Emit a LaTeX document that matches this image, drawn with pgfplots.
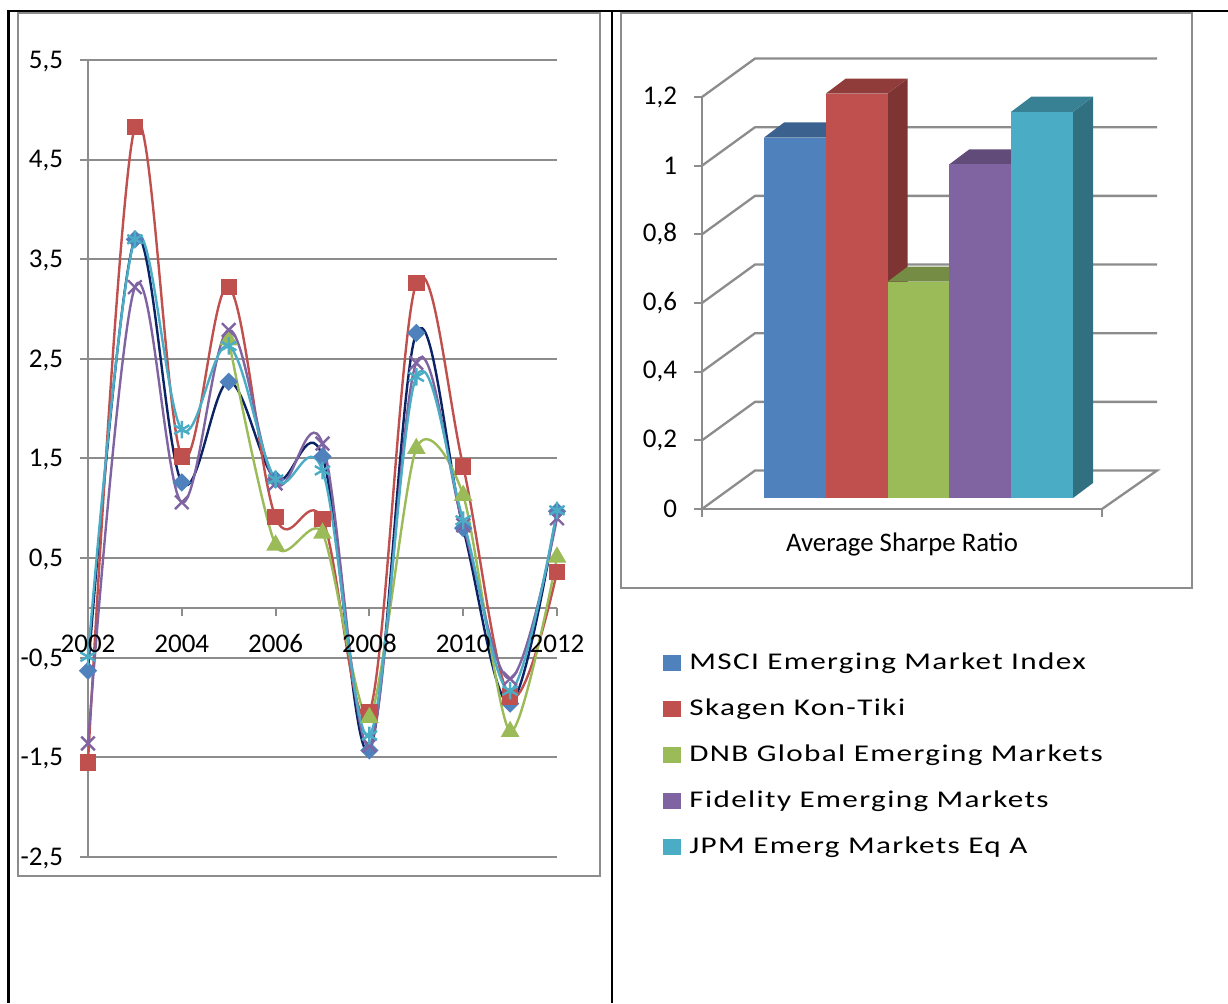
\documentclass[border=0pt]{standalone}
\usepackage{fontspec}
\usepackage{pgfplots}
\usepackage{pgfplotstable}
\pgfplotsset{compat=1.18}
\setmainfont{Carlito}
\newfontfamily\legfont[FakeStretch=1.3,LetterSpace=5.7]{Carlito}

\definecolor{cblue}{HTML}{4F81BD}
\definecolor{cnavy}{HTML}{0B2265}
\definecolor{cred}{HTML}{C0504D}
\definecolor{cgreen}{HTML}{9BBB59}
\definecolor{cpurple}{HTML}{8064A2}
\definecolor{ccyan}{HTML}{4BACC6}
\definecolor{gridgray}{HTML}{8C8C8C}

\pgfplotstableread{
year msci skagen dnb fidelity jpm
2002 -0.63 -1.55 nan -1.36 -0.49
2003  3.70  4.83 nan  3.22  3.70
2004  1.26  1.52 nan  1.06  1.79
2005  2.27  3.22 2.69  2.79  2.63
2006  1.29  0.91 0.63  1.25  1.29
2007  1.52  0.89 0.75  1.65  1.38
2008 -1.43 -1.05 -1.10 -1.38 -1.28
2009  2.76  3.26 1.60  2.46  2.32
2010  0.80  1.42 1.13  0.83  0.88
2011 -0.96 -0.89 -1.24 -0.71 -0.83
2012  0.97  0.36 0.51  0.90  0.98
}\funds

\pgfplotsset{
  fundline/.style={smooth,tension=0.6,line width=1.2pt},
  wall/.style={gridgray,line width=1.15pt,mark=none,solid},
  linechart/.style={
    at={(44pt,73pt)},anchor=south west,
    scale only axis,width=234.5pt,height=398.5pt,
    xmin=2002,xmax=2012,ymin=-2.5,ymax=5.5,
    axis x line=middle,axis y line=left,
    hide obscured x ticks=false,hide obscured y ticks=false,
    xtick={2002,2004,...,2012},
    ytick={-2.5,-1.5,...,5.5},
    tick align=outside,major tick length=4pt,
    clip=false,
  },
}

\begin{document}
\begin{tikzpicture}
\useasboundingbox (0,0) rectangle (614pt,501.5pt);
\begin{scope}[x=0.5pt,y=-0.5pt,yshift=501.5pt]
  % table rules and chart frames, pixel coordinates of the page
  \draw[black,line width=1.1pt] (8.5,1003) -- (8.5,11) -- (1228,11);
  \draw[black,line width=1.1pt] (612,11) -- (612,1003);
  \draw[gridgray,line width=1pt] (18,13) rectangle (600,876);
  \draw[gridgray,line width=1pt] (621,13) rectangle (1192,588);
\end{scope}

% line chart
\begin{axis}[
  linechart,
  axis line style={-,gridgray,line width=1pt},
  xticklabels={},yticklabels={},
  tick style={gridgray,line width=1pt},
  ymajorgrids,major grid style={gridgray,line width=1pt},
]
\addplot[fundline,cnavy,mark=square*,mark size=2.65pt,mark options={rotate=45,fill=cblue,draw=cblue,solid}] table[x=year,y=msci] {\funds};
\addplot[fundline,cred,mark=square*,mark size=3.5pt,mark options={fill=cred,draw=cred,solid}] table[x=year,y=skagen] {\funds};
\addplot[fundline,tension=0.45,cgreen,mark=triangle*,mark size=4.2pt,mark options={fill=cgreen,draw=cgreen,solid}] table[x=year,y=dnb] {\funds};
\addplot[fundline,cpurple,mark=x,mark size=4.8pt,mark options={draw=cpurple,solid}] table[x=year,y=fidelity] {\funds};
\addplot[fundline,ccyan,mark=asterisk,mark size=4.4pt,mark options={draw=ccyan,solid}] table[x=year,y=jpm] {\funds};
\end{axis}

% its tick labels again on top, the lines run under them
\begin{axis}[
  linechart,
  axis line style={draw=none},
  tick style={draw=none},
  yticklabels={{-2,5},{-1,5},{-0,5},{0,5},{1,5},{2,5},{3,5},{4,5},{5,5}},
  x tick label style={/pgf/number format/1000 sep=,/pgf/number format/assume math mode=true,yshift=-5.5pt,text height=9pt,text depth=0pt},
  y tick label style={xshift=-5pt,yshift=-0.7pt},
  tick label style={font=\fontsize{13.5}{16}\selectfont},
]
\end{axis}

% walls of the 3d column chart
\begin{axis}[
  at={(351pt,247pt)},anchor=south west,
  scale only axis,width=200pt,height=206pt,
  xmin=0,xmax=1,ymin=0,ymax=1.2,
  axis x line=bottom,axis y line=left,
  axis line style={-,gridgray,line width=1.15pt},
  xtick={0,1},xticklabels={,},
  ytick={0,0.2,...,1.2},
  yticklabels={0,{0,2},{0,4},{0,6},{0,8},1,{1,2}},
  tick label style={font=\fontsize{13.5}{16}\selectfont},
  y tick label style={xshift=-5pt},
  tick align=outside,major tick length=4pt,
  tick style={gridgray,line width=1pt},
  xlabel={Average Sharpe Ratio},
  xlabel style={font=\fontsize{13.4}{16}\selectfont,at={(axis description cs:0.5,-0.042)},anchor=north},
  clip=false,
]
\addplot[wall] coordinates {(0,0) (0.1325,0.112) (1.1375,0.112) (1,0)};
\addplot[wall] coordinates {(0,0.2) (0.1325,0.312) (1.1375,0.312)};
\addplot[wall] coordinates {(0,0.4) (0.1325,0.512) (1.1375,0.512)};
\addplot[wall] coordinates {(0,0.6) (0.1325,0.712) (1.1375,0.712)};
\addplot[wall] coordinates {(0,0.8) (0.1325,0.912) (1.1375,0.912)};
\addplot[wall] coordinates {(0,1) (0.1325,1.112) (1.1375,1.112)};
\addplot[wall] coordinates {(0,1.2) (0.1325,1.312) (1.1375,1.312)};
\end{axis}

% the columns, and the legend
\begin{axis}[
  at={(382pt,252.5pt)},anchor=south west,
  scale only axis,width=154.5pt,height=206pt,
  xmin=0.5,xmax=5.5,ymin=0,ymax=1.2,
  hide axis,clip=false,
  legend image code/.code={\fill[#1] (0pt,-4pt) rectangle (9pt,4pt);},
  legend cell align=left,
  legend style={at={(axis description cs:-0.327,-0.371)},anchor=north west,draw=none,fill=none,
    font=\legfont\fontsize{12}{14}\selectfont,row sep=11pt,inner sep=0pt,
    nodes={text height=9pt,text depth=3pt,inner sep=0pt,anchor=west},
    /tikz/every odd column/.append style={column sep=4pt}},
]
% blue
\addplot[forget plot,fill=cblue!70!black,draw=none] coordinates {(1.5,1.05) (1.824,1.0937) (1.824,0.0437) (1.5,0)} -- cycle;
\addplot[forget plot,fill=cblue!75!black,draw=none] coordinates {(0.5,1.05) (0.824,1.0937) (1.824,1.0937) (1.5,1.05)} -- cycle;
\addplot[forget plot,ybar,bar width=30.9pt,fill=cblue,draw=none] coordinates {(1,1.05)};
% red
\addplot[forget plot,fill=cred!65!black,draw=none] coordinates {(2.5,1.178) (2.824,1.2217) (2.824,0.0437) (2.5,0)} -- cycle;
\addplot[forget plot,fill=cred!75!black,draw=none] coordinates {(1.5,1.178) (1.824,1.2217) (2.824,1.2217) (2.5,1.178)} -- cycle;
\addplot[forget plot,ybar,bar width=30.9pt,fill=cred,draw=none] coordinates {(2,1.178)};
% green
\addplot[forget plot,fill=cgreen!65!black,draw=none] coordinates {(3.5,0.63) (3.824,0.6737) (3.824,0.0437) (3.5,0)} -- cycle;
\addplot[forget plot,fill=cgreen!75!black,draw=none] coordinates {(2.5,0.63) (2.824,0.6737) (3.824,0.6737) (3.5,0.63)} -- cycle;
\addplot[forget plot,ybar,bar width=30.9pt,fill=cgreen,draw=none] coordinates {(3,0.63)};
% purple
\addplot[forget plot,fill=cpurple!65!black,draw=none] coordinates {(4.5,0.972) (4.824,1.0157) (4.824,0.0437) (4.5,0)} -- cycle;
\addplot[forget plot,fill=cpurple!75!black,draw=none] coordinates {(3.5,0.972) (3.824,1.0157) (4.824,1.0157) (4.5,0.972)} -- cycle;
\addplot[forget plot,ybar,bar width=30.9pt,fill=cpurple,draw=none] coordinates {(4,0.972)};
% cyan
\addplot[forget plot,fill=ccyan!65!black,draw=none] coordinates {(5.5,1.125) (5.824,1.1687) (5.824,0.0437) (5.5,0)} -- cycle;
\addplot[forget plot,fill=ccyan!75!black,draw=none] coordinates {(4.5,1.125) (4.824,1.1687) (5.824,1.1687) (5.5,1.125)} -- cycle;
\addplot[forget plot,ybar,bar width=30.9pt,fill=ccyan,draw=none] coordinates {(5,1.125)};
\addlegendimage{fill=cblue,draw=none}
\addlegendentry{MSCI Emerging Market Index}
\addlegendimage{fill=cred,draw=none}
\addlegendentry{Skagen Kon-Tiki}
\addlegendimage{fill=cgreen,draw=none}
\addlegendentry{DNB Global Emerging Markets}
\addlegendimage{fill=cpurple,draw=none}
\addlegendentry{Fidelity Emerging Markets}
\addlegendimage{fill=ccyan,draw=none}
\addlegendentry{JPM Emerg Markets Eq A}
\end{axis}
\end{tikzpicture}
\end{document}
